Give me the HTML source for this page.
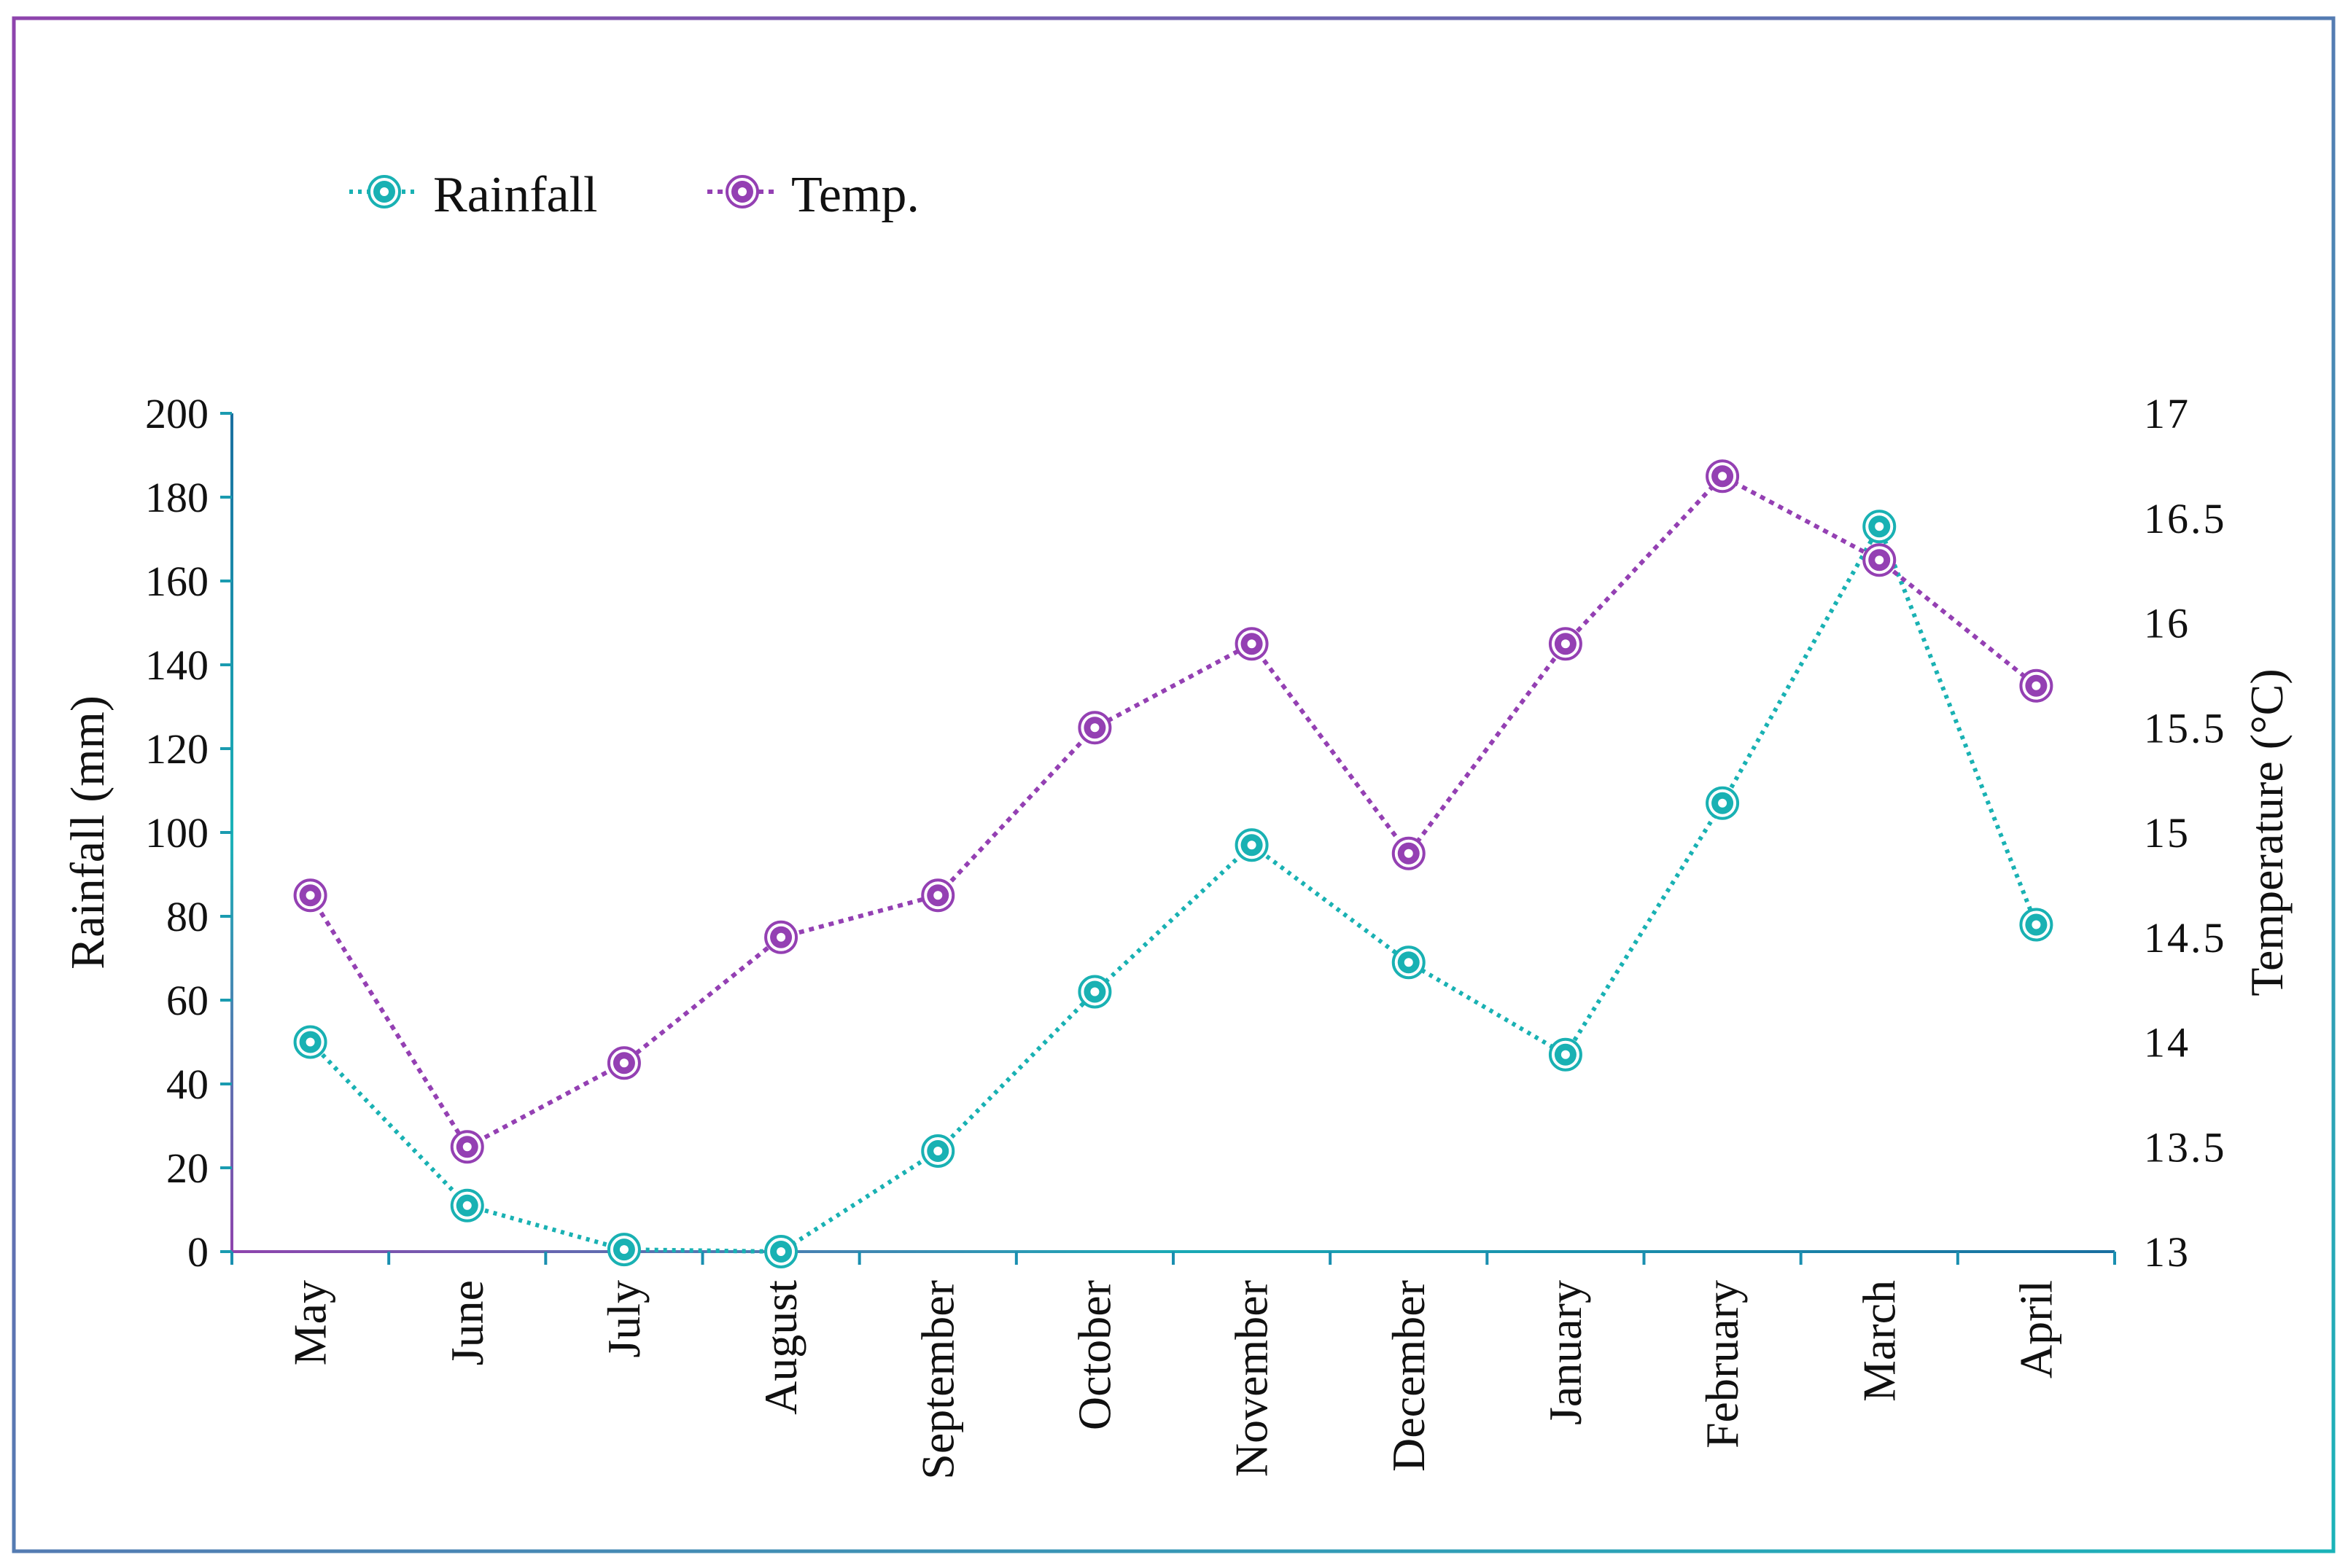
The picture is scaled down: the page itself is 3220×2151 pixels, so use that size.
<!DOCTYPE html>
<html><head><meta charset="utf-8"><style>
html,body{margin:0;padding:0;background:#fff;}
svg{display:block;font-family:"Liberation Serif",serif;}
</style></head><body>
<svg id="chart" width="3220" height="2151" viewBox="0 0 3220 2151" xmlns="http://www.w3.org/2000/svg">
<defs>
<linearGradient id="gb" x1="0" y1="0" x2="1" y2="1"><stop offset="0" stop-color="#8e44ad"/><stop offset="1" stop-color="#1ab3b8"/></linearGradient>
<linearGradient id="gx" gradientUnits="userSpaceOnUse" x1="318" y1="0" x2="2900" y2="0"><stop offset="0" stop-color="#8e44ad"/><stop offset="0.5" stop-color="#1aa9b5"/><stop offset="1" stop-color="#1a6fa0"/></linearGradient>
<linearGradient id="gy" gradientUnits="userSpaceOnUse" x1="0" y1="567" x2="0" y2="1717"><stop offset="0" stop-color="#1a6fa0"/><stop offset="0.5" stop-color="#1ab3b8"/><stop offset="1" stop-color="#8e44ad"/></linearGradient>
</defs>
<rect x="19" y="25" width="3181" height="2103" fill="none" stroke="url(#gb)" stroke-width="5"/>
<g id="axes"></g>
<g id="series"></g>
<g id="legend"></g>
</svg>
<script>
const months = ["May","June","July","August","September","October","November","December","January","February","March","April"];
const rainfall = [50, 11, 0.5, 0, 24, 62, 97, 69, 47, 107, 173, 78];
const temperature = [14.7, 13.5, 13.9, 14.5, 14.7, 15.5, 15.9, 14.9, 15.9, 16.7, 16.3, 15.7];
const leftTicks = [0, 20, 40, 60, 80, 100, 120, 140, 160, 180, 200];
const rightTicks = ["13", "13.5", "14", "14.5", "15", "15.5", "16", "16.5", "17"];

const NS = "http://www.w3.org/2000/svg";
const X0 = 318, X1 = 2900, YB = 1717, YT = 567;
const band = (X1 - X0) / months.length;
const xPos = i => X0 + band * (i + 0.5);
const yL = v => YB - (v - 0) / 200 * (YB - YT);
const yR = v => YB - (v - 13) / 4 * (YB - YT);
function mk(tag, attrs, parent, text) {
  const e = document.createElementNS(NS, tag);
  for (const k in attrs) e.setAttribute(k, attrs[k]);
  if (text !== undefined) e.textContent = text;
  parent.appendChild(e);
  return e;
}
const axes = document.getElementById('axes');
const series = document.getElementById('series');
const legend = document.getElementById('legend');

let el = mk('line', {x1: X0, y1: YT, x2: X0, y2: YB, stroke: 'url(#gy)', 'stroke-width': 4}, axes);


leftTicks.forEach(v => {
  const y = yL(v);
  let t = mk('line', {x1: X0 - 16, y1: y, x2: X0, y2: y, stroke: '#1a9bb0', 'stroke-width': 4}, axes);
  
  
  let l = mk('text', {x: X0 - 32, y: y + 20, 'text-anchor': 'end', 'font-size': 58, fill: '#111'}, axes, String(v));
  
  
});
rightTicks.forEach(s => {
  const y = yR(parseFloat(s));
  let l = mk('text', {x: 2940, y: y + 20, 'text-anchor': 'start', 'font-size': 58, fill: '#111', 'letter-spacing': 3}, axes, s);
  
  
});
el = mk('line', {x1: X0, y1: YB, x2: X1, y2: YB, stroke: 'url(#gx)', 'stroke-width': 4}, axes);


for (let i = 0; i <= months.length; i++) {
  const x = X0 + band * i;
  let t = mk('line', {x1: x, y1: YB, x2: x, y2: YB + 18, stroke: '#1a8fb0', 'stroke-width': 4}, axes);
  
  
}
months.forEach((m, i) => {
  const x = xPos(i) + 21, y = 1756;
  let l = mk('text', {x: x, y: y, 'text-anchor': 'end', 'font-size': 64, fill: '#111', transform: `rotate(-90 ${x} ${y})`}, axes, m);
  
  
});
el = mk('text', {x: 142, y: 1142, 'text-anchor': 'middle', 'font-size': 66, fill: '#111', transform: 'rotate(-90 142 1142)'}, axes, 'Rainfall (mm)');


el = mk('text', {x: 3130, y: 1142, 'text-anchor': 'middle', 'font-size': 64, fill: '#111', transform: 'rotate(-90 3130 1142)'}, axes, 'Temperature (°C)');



function marker(parent, x, y, color, name) {
  const g = mk('g', {}, parent);
  
  
  mk('circle', {cx: x, cy: y, r: 21, fill: '#fff', stroke: color, 'stroke-width': 4}, g);
  mk('circle', {cx: x, cy: y, r: 15, fill: color}, g);
  mk('circle', {cx: x, cy: y, r: 6, fill: '#fff'}, g);
}
function drawSeries(vals, yf, color, dash, name) {
  const pts = vals.map((v, i) => xPos(i) + ',' + yf(v)).join(' ');
  let p = mk('polyline', {points: pts, fill: 'none', stroke: color, 'stroke-width': 6, 'stroke-dasharray': dash}, series);
  
  
  vals.forEach((v, i) => marker(series, xPos(i), yf(v), color, name + '-point'));
}
drawSeries(rainfall, yL, '#19b1b3', '5 7', 'rainfall');
drawSeries(temperature, yR, '#9440b3', '7 7', 'temperature');

function legendEntry(x, label, color, dash, name) {
  const g = mk('g', {}, legend);
  
  
  mk('line', {x1: x - 48, y1: 263, x2: x + 48, y2: 263, stroke: color, 'stroke-width': 6, 'stroke-dasharray': dash}, g);
  marker(g, x, 263, color, name + '-marker');
  let t = mk('text', {x: x + 67, y: 290, 'font-size': 70, fill: '#111'}, g, label);
  
  
}
legendEntry(527, 'Rainfall', '#19b1b3', '5 7', 'legend-rainfall');
legendEntry(1018, 'Temp.', '#9440b3', '7 7', 'legend-temperature');
</script>
</body></html>
